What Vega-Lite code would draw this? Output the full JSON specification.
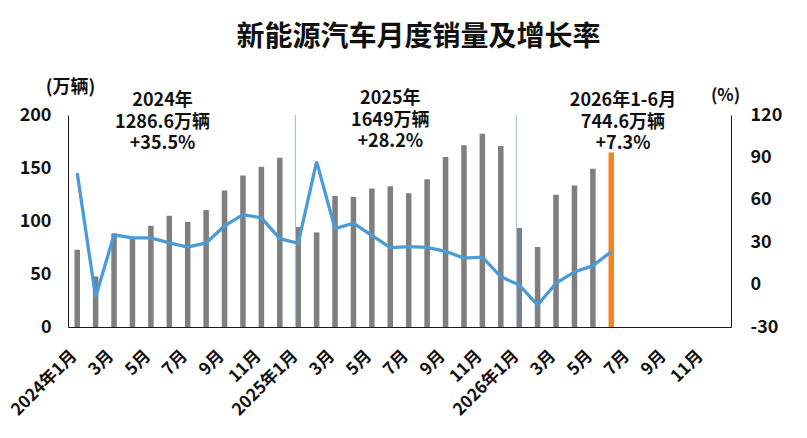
{
  "$schema": "https://vega.github.io/schema/vega-lite/v6.json",
  "width": 663,
  "height": 212,
  "autosize": {"type": "none"},
  "padding": {"left": 68, "top": 115, "right": 76, "bottom": 111},
  "background": "white",
  "config": {
    "font": "Noto Sans CJK SC",
    "view": {"stroke": null},
    "axis": {
      "labelFont": "Noto Sans CJK SC",
      "labelFontWeight": "bold",
      "labelColor": "#111111",
      "titleFont": "Noto Sans CJK SC",
      "titleFontWeight": "bold",
      "titleColor": "#111111",
      "domainColor": "#1a1a1a",
      "domainWidth": 1,
      "grid": false,
      "ticks": false,
      "tickSize": 0
    }
  },
  "title": {
    "text": "新能源汽车月度销量及增长率",
    "font": "Noto Sans CJK SC",
    "fontSize": 28,
    "fontWeight": "bold",
    "color": "#111111",
    "anchor": "middle",
    "dx": 19,
    "offset": 26
  },
  "datasets": {
    "monthly": [
      {"month": "2024-01", "sales": 72.9, "growth": 79.0},
      {"month": "2024-02", "sales": 47.7, "growth": -8.8},
      {"month": "2024-03", "sales": 88.3, "growth": 35.2},
      {"month": "2024-04", "sales": 85.0, "growth": 33.0},
      {"month": "2024-05", "sales": 95.5, "growth": 33.0},
      {"month": "2024-06", "sales": 104.9, "growth": 29.5},
      {"month": "2024-07", "sales": 99.1, "growth": 26.6},
      {"month": "2024-08", "sales": 110.3, "growth": 29.5},
      {"month": "2024-09", "sales": 128.7, "growth": 41.5},
      {"month": "2024-10", "sales": 143.0, "growth": 49.5},
      {"month": "2024-11", "sales": 151.2, "growth": 47.2},
      {"month": "2024-12", "sales": 159.6, "growth": 32.5},
      {"month": "2025-01", "sales": 94.4, "growth": 29.2},
      {"month": "2025-02", "sales": 89.2, "growth": 87.0},
      {"month": "2025-03", "sales": 123.7, "growth": 39.6},
      {"month": "2025-04", "sales": 122.6, "growth": 43.4},
      {"month": "2025-05", "sales": 130.7, "growth": 34.8},
      {"month": "2025-06", "sales": 132.9, "growth": 26.2},
      {"month": "2025-07", "sales": 126.2, "growth": 26.8},
      {"month": "2025-08", "sales": 139.5, "growth": 26.4},
      {"month": "2025-09", "sales": 160.4, "growth": 23.5},
      {"month": "2025-10", "sales": 171.5, "growth": 18.8},
      {"month": "2025-11", "sales": 182.3, "growth": 19.4},
      {"month": "2025-12", "sales": 170.8, "growth": 5.6},
      {"month": "2026-01", "sales": 93.5, "growth": -0.3},
      {"month": "2026-02", "sales": 75.5, "growth": -14.4},
      {"month": "2026-03", "sales": 124.8, "growth": 1.0},
      {"month": "2026-04", "sales": 133.5, "growth": 9.0},
      {"month": "2026-05", "sales": 149.2, "growth": 13.4},
      {"month": "2026-06", "sales": 164.6, "growth": 23.3}
    ]
  },
  "layer": [
    {
      "layer": [
        {
          "data": {"name": "monthly"},
          "mark": {"type": "bar"},
          "encoding": {
            "x": {
              "field": "month",
              "type": "ordinal",
              "scale": {
                "domain": [
                  "2024-01", "2024-02", "2024-03", "2024-04", "2024-05", "2024-06",
                  "2024-07", "2024-08", "2024-09", "2024-10", "2024-11", "2024-12",
                  "2025-01", "2025-02", "2025-03", "2025-04", "2025-05", "2025-06",
                  "2025-07", "2025-08", "2025-09", "2025-10", "2025-11", "2025-12",
                  "2026-01", "2026-02", "2026-03", "2026-04", "2026-05", "2026-06",
                  "2026-07", "2026-08", "2026-09", "2026-10", "2026-11", "2026-12"
                ],
                "paddingInner": 0.7,
                "paddingOuter": 0.35
              },
              "axis": {
                "title": null,
                "orient": "bottom",
                "labelAngle": -45,
                "labelAlign": "right",
                "labelBaseline": "middle",
                "labelPadding": 26,
                "labelOffset": -3,
                "labelFontSize": 17,
                "labelOverlap": false,
                "labelExpr": "toNumber(substring(datum.value,5,7)) == 1 ? substring(datum.value,0,4) + '年1月' : (toNumber(substring(datum.value,5,7)) % 2 == 1 ? toNumber(substring(datum.value,5,7)) + '月' : '')"
              }
            },
            "y": {
              "field": "sales",
              "type": "quantitative",
              "scale": {"domain": [0, 200], "nice": false},
              "axis": {
                "orient": "left",
                "values": [0, 50, 100, 150, 200],
                "labelFontSize": 18,
                "labelPadding": 17,
                "title": "(万辆)",
                "titleFontSize": 18,
                "titleAngle": 0,
                "titleAlign": "center",
                "titleBaseline": "middle",
                "titleX": 2,
                "titleY": -28
              }
            },
            "color": {
              "condition": {"test": "datum.month === '2026-06'", "value": "#f28522"},
              "value": "#7f7f7f"
            }
          }
        },
        {
          "data": {"values": [{"month": "2025-01"}, {"month": "2026-01"}]},
          "mark": {"type": "rule", "color": "#a9c6e0", "strokeWidth": 1.2},
          "encoding": {
            "x": {"field": "month", "type": "ordinal", "bandPosition": 0}
          }
        },
        {
          "data": {
            "values": [
              {"month": "2024-06", "label": "2024年\n1286.6万辆\n+35.5%"},
              {"month": "2026-07", "label": "2026年1-6月\n744.6万辆\n+7.3%"}
            ]
          },
          "mark": {
            "type": "text",
            "fontSize": 18,
            "fontWeight": "bold",
            "color": "#111111",
            "align": "center",
            "baseline": "middle",
            "lineBreak": "\n",
            "lineHeight": 21.5,
            "dy": -14,
            "dx": -4
          },
          "encoding": {
            "x": {"field": "month", "type": "ordinal", "bandPosition": 0},
            "y": {"datum": 200},
            "text": {"field": "label"}
          }
        },
        {
          "data": {"values": [{"month": "2025-06", "label": "2025年\n1649万辆\n+28.2%"}]},
          "mark": {
            "type": "text",
            "fontSize": 18,
            "fontWeight": "bold",
            "color": "#111111",
            "align": "center",
            "baseline": "middle",
            "lineBreak": "\n",
            "lineHeight": 21.5,
            "dy": -16
          },
          "encoding": {
            "x": {"field": "month", "type": "ordinal"},
            "y": {"datum": 200},
            "text": {"field": "label"}
          }
        }
      ]
    },
    {
      "data": {"name": "monthly"},
      "mark": {"type": "line", "color": "#4a9bd6", "strokeWidth": 3.3},
      "encoding": {
        "x": {"field": "month", "type": "ordinal"},
        "y": {
          "field": "growth",
          "type": "quantitative",
          "scale": {"domain": [-30, 120], "nice": false},
          "axis": {
            "orient": "right",
            "values": [-30, 0, 30, 60, 90, 120],
            "labelExpr": "'' + datum.value",
            "labelFontSize": 18,
            "labelPadding": 19,
            "title": "(%)",
            "titleFontSize": 17,
            "titleAngle": 0,
            "titleAlign": "center",
            "titleBaseline": "middle",
            "titleX": -6,
            "titleY": -20
          }
        }
      }
    }
  ],
  "resolve": {"scale": {"y": "independent"}}
}
